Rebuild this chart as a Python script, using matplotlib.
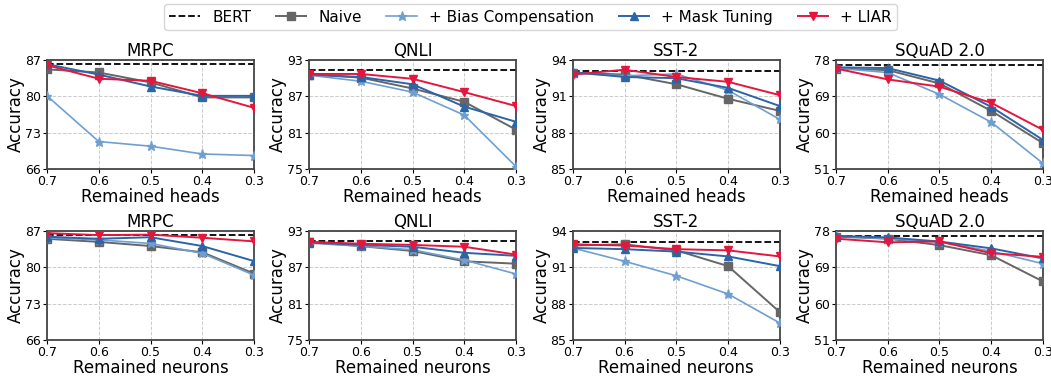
import matplotlib
matplotlib.use('Agg')
import matplotlib.pyplot as plt
from matplotlib.lines import Line2D

ratios = [0.7, 0.6, 0.5, 0.4, 0.3]
tasks = ['MRPC', 'QNLI', 'SST-2', 'SQuAD 2.0']
methods = ['Naive', '+ Bias Compensation', '+ Mask Tuning', '+ LIAR']

# y range / ticks per task
y_ticks = {
    'MRPC': [66, 73, 80, 87],
    'QNLI': [75, 81, 87, 93],
    'SST-2': [85, 88, 91, 94],
    'SQuAD 2.0': [51, 60, 69, 78],
}
bert = {'MRPC': 86.2, 'QNLI': 91.4, 'SST-2': 93.1, 'SQuAD 2.0': 76.8}

# pruning heads
heads_mrpc = {
    'Naive': [85.2, 84.6, 82.7, 79.8, 79.8],
    '+ Bias Compensation': [80.1, 71.3, 70.4, 68.9, 68.6],
    '+ Mask Tuning': [86.2, 84.2, 81.9, 80.1, 80.1],
    '+ LIAR': [86.0, 83.4, 83.0, 80.6, 77.8],
}
heads_qnli = {
    'Naive': [90.6, 90.1, 88.3, 86.1, 81.5],
    '+ Bias Compensation': [90.5, 89.5, 87.7, 83.9, 75.4],
    '+ Mask Tuning': [90.6, 90.2, 89.0, 85.3, 82.8],
    '+ LIAR': [90.7, 90.7, 89.9, 87.7, 85.4],
}
heads_sst2 = {
    'Naive': [92.95, 92.8, 92.0, 90.8, 89.8],
    '+ Bias Compensation': [92.9, 92.7, 92.85, 91.5, 89.1],
    '+ Mask Tuning': [93.0, 92.6, 92.5, 91.7, 90.2],
    '+ LIAR': [92.8, 93.2, 92.6, 92.2, 91.1],
}
heads_squad = {
    'Naive': [75.9, 75.5, 72.2, 65.4, 57.4],
    '+ Bias Compensation': [76.0, 74.9, 69.5, 62.6, 52.4],
    '+ Mask Tuning': [76.2, 76.0, 72.9, 66.4, 58.2],
    '+ LIAR': [75.9, 73.2, 71.4, 67.4, 60.7],
}

# pruning neurons
neurons_mrpc = {
    'Naive': [85.5, 84.9, 84.1, 82.9, 78.8],
    '+ Bias Compensation': [85.7, 85.3, 84.6, 82.7, 78.5],
    '+ Mask Tuning': [85.9, 85.5, 85.8, 84.1, 81.2],
    '+ LIAR': [86.6, 86.2, 86.3, 85.7, 85.0],
}
neurons_qnli = {
    'Naive': [91.2, 90.5, 89.7, 88.0, 87.6],
    '+ Bias Compensation': [91.0, 90.5, 89.9, 88.2, 85.9],
    '+ Mask Tuning': [91.1, 90.7, 90.4, 89.4, 88.9],
    '+ LIAR': [91.2, 90.9, 90.7, 90.4, 89.1],
}
neurons_sst2 = {
    'Naive': [92.8, 92.9, 92.4, 91.1, 87.3],
    '+ Bias Compensation': [92.6, 91.5, 90.3, 88.8, 86.4],
    '+ Mask Tuning': [92.6, 92.5, 92.3, 91.9, 91.1],
    '+ LIAR': [92.9, 92.8, 92.5, 92.4, 91.9],
}
neurons_squad = {
    'Naive': [76.6, 76.1, 74.5, 72.0, 65.5],
    '+ Bias Compensation': [76.8, 76.1, 75.3, 73.0, 69.9],
    '+ Mask Tuning': [76.8, 76.4, 75.4, 73.7, 71.2],
    '+ LIAR': [76.1, 75.2, 75.4, 72.5, 71.6],
}

rows = [
    ('Remained heads', [heads_mrpc, heads_qnli, heads_sst2, heads_squad]),
    ('Remained neurons', [neurons_mrpc, neurons_qnli, neurons_sst2, neurons_squad]),
]

styles = {
    'Naive': dict(color='#666666', marker='s', markersize=5.5, lw=1.4),
    '+ Bias Compensation': dict(color='#6f9fd0', marker='*', markersize=6.5, lw=1.2),
    '+ Mask Tuning': dict(color='#2c64a8', marker='^', markersize=5.5, lw=1.4),
    '+ LIAR': dict(color='#e5163e', marker='v', markersize=5.5, lw=1.4),
}

fig = plt.figure(figsize=(10.51, 3.79), dpi=100)
lefts = [0.0447, 0.294, 0.545, 0.7954]
bottoms = [0.554, 0.1029]
w, h = 0.197, 0.2876

for r, (xlabel, datasets) in enumerate(rows):
    for c, task in enumerate(tasks):
        ax = fig.add_axes([lefts[c], bottoms[r], w, h])
        data = datasets[c]
        ax.axhline(bert[task], color='black', ls='--', lw=1.3, zorder=2)
        for m in methods:
            ax.plot(ratios, data[m], zorder=3, **styles[m])
        ax.set_xlim(0.7, 0.3)
        ax.set_xticks(ratios)
        ax.set_xticklabels([str(x) for x in ratios])
        yt = y_ticks[task]
        ax.set_ylim(yt[0], yt[-1])
        ax.set_yticks(yt)
        ax.tick_params(labelsize=9, length=3, pad=1.5)
        ax.grid(True, ls='--', color='#cccccc', lw=0.7)
        ax.set_axisbelow(True)
        for s in ax.spines.values():
            s.set_color('#444444')
            s.set_linewidth(1.3)
        ax.set_title(task, fontsize=12, pad=3)
        ax.set_xlabel(xlabel, fontsize=12, labelpad=0)
        ax.set_ylabel('Accuracy', fontsize=12, labelpad=0)

handles = [Line2D([], [], color='black', ls='--', lw=1.3)]
handles += [Line2D([], [], **styles[m]) for m in methods]
fig.legend(handles, ['BERT'] + methods, loc='center', bbox_to_anchor=(0.505, 0.955),
           ncol=5, fontsize=11, frameon=True, handlelength=2.0, columnspacing=1.6,
           borderpad=0.35)

fig.savefig('out.png', dpi=100)
